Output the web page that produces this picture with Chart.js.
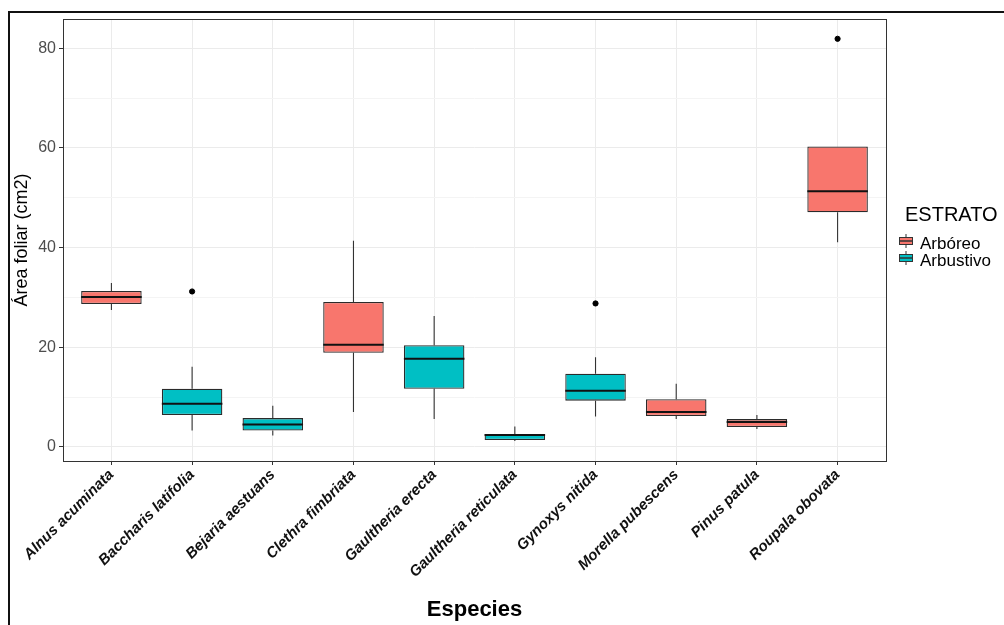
<!DOCTYPE html>
<html>
<head>
<meta charset="utf-8">
<script src="https://cdn.jsdelivr.net/npm/chart.js@4.4.0/dist/chart.umd.min.js"></script>
<style>
  html, body { margin: 0; padding: 0; background: #fff; }
  #wrap { width: 1004px; height: 625px; }
</style>
</head>
<body>
<div id="wrap"><canvas id="chart" width="1004" height="625"></canvas></div>
<script>
// datos
const especies = ['Alnus acuminata', 'Baccharis latifolia', 'Bejaria aestuans', 'Clethra fimbriata',
  'Gaultheria erecta', 'Gaultheria reticulata', 'Gynoxys nitida', 'Morella pubescens', 'Pinus patula', 'Roupala obovata'];
const estrato = ['Arbóreo', 'Arbustivo', 'Arbustivo', 'Arbóreo', 'Arbustivo', 'Arbustivo', 'Arbustivo', 'Arbóreo', 'Arbóreo', 'Arbóreo'];
const bigoteInf = [27.5, 3.3, 2.3, 7.0, 5.6, 1.2, 6.1, 5.6, 3.6, 41.1];
const q1 = [28.7, 6.4, 3.3, 18.9, 11.7, 1.4, 9.3, 6.2, 4.0, 47.1];
const mediana = [30.1, 8.7, 4.5, 20.5, 17.7, 2.4, 11.3, 7.0, 5.0, 51.3];
const q3 = [31.3, 11.7, 5.8, 29.1, 20.4, 2.6, 14.7, 9.6, 5.6, 60.3];
const bigoteSup = [32.9, 16.1, 8.3, 41.4, 26.3, 4.1, 18.0, 12.7, 6.4, 60.3];
const atipicos = [[], [31.2], [], [], [], [], [28.8], [], [], [81.9]];
const yTicks = [0, 10, 20, 30, 40, 50, 60, 70, 80];
const grupos = ['Arbóreo', 'Arbustivo'];
const colores = ['#F8766D', '#00BFC4'];

const datasets = grupos.map((g, k) => ({
    label: g,
    data: especies.map((e, i) => ({ x: i + 1, y: [q1[i], q3[i]], i: i })).filter(d => estrato[d.i] === g),
    backgroundColor: colores[k],
    borderColor: '#2b2b2b',
    borderWidth: 1.3,
    borderSkipped: false,
    grouped: false,
    categoryPercentage: 1,
    barPercentage: 0.75,
}));

const puntos = [];
atipicos.forEach((lista, i) => lista.forEach(v => puntos.push({ x: i + 1, y: v })));
datasets.push({
    type: 'scatter',
    label: 'atipicos',
    data: puntos,
    backgroundColor: '#000',
    borderColor: '#000',
    pointRadius: 2.6,
    showLine: false,
});

const marco = {
    id: 'marco',
    beforeDraw(chart) {
        const ctx = chart.ctx;
        ctx.save();
        ctx.fillStyle = '#111';
        ctx.fillRect(8, 11, 996, 2);
        ctx.fillRect(8, 11, 2, 614);
        ctx.restore();
    }
};

const cajas = {
    id: 'cajas',
    beforeDatasetsDraw(chart) {
        const ctx = chart.ctx;
        const y = chart.scales.y;
        ctx.save();
        ctx.strokeStyle = '#333333';
        ctx.lineWidth = 1.1;
        chart.data.datasets.forEach((ds, di) => {
            if (ds.type === 'scatter') return;
            chart.getDatasetMeta(di).data.forEach((bar, j) => {
                const i = ds.data[j].i;
                ctx.beginPath();
                ctx.moveTo(bar.x, y.getPixelForValue(q3[i]));
                ctx.lineTo(bar.x, y.getPixelForValue(bigoteSup[i]));
                ctx.moveTo(bar.x, y.getPixelForValue(q1[i]));
                ctx.lineTo(bar.x, y.getPixelForValue(bigoteInf[i]));
                ctx.stroke();
            });
        });
        ctx.restore();
    },
    afterDatasetsDraw(chart) {
        const ctx = chart.ctx;
        const y = chart.scales.y;
        ctx.save();
        ctx.strokeStyle = '#111';
        ctx.lineWidth = 2;
        chart.data.datasets.forEach((ds, di) => {
            if (ds.type === 'scatter') return;
            chart.getDatasetMeta(di).data.forEach((bar, j) => {
                const i = ds.data[j].i;
                const py = y.getPixelForValue(mediana[i]);
                ctx.beginPath();
                ctx.moveTo(bar.x - bar.width / 2, py);
                ctx.lineTo(bar.x + bar.width / 2, py);
                ctx.stroke();
            });
        });
        // borde del panel
        const a = chart.chartArea;
        ctx.strokeStyle = '#333333';
        ctx.lineWidth = 1;
        ctx.strokeRect(Math.round(a.left) + 0.5, Math.round(a.top) + 0.5, Math.round(a.right - a.left), Math.round(a.bottom - a.top));
        ctx.restore();
    },
    afterDraw(chart) {
        // leyenda estilo ggplot
        const ctx = chart.ctx;
        const a = chart.chartArea;
        const x0 = a.right + 12;
        ctx.save();
        ctx.fillStyle = '#000';
        ctx.font = '20px "Liberation Sans", Arial, sans-serif';
        ctx.textBaseline = 'middle';
        ctx.fillText('ESTRATO', x0 + 7, 215);
        grupos.forEach((g, k) => {
            const cy = 241 + k * 17;
            const cx = x0 + 8;
            ctx.strokeStyle = '#333333';
            ctx.lineWidth = 1;
            ctx.beginPath();
            ctx.moveTo(cx, cy - 7);
            ctx.lineTo(cx, cy + 7);
            ctx.stroke();
            ctx.fillStyle = colores[k];
            ctx.fillRect(cx - 7, cy - 4, 14, 8);
            ctx.strokeRect(cx - 7 + 0.5, cy - 4 + 0.5, 13, 7);
            ctx.lineWidth = 1.5;
            ctx.beginPath();
            ctx.moveTo(cx - 7, cy);
            ctx.lineTo(cx + 7, cy);
            ctx.stroke();
            ctx.fillStyle = '#000';
            ctx.font = '17px "Liberation Sans", Arial, sans-serif';
            ctx.fillText(g, x0 + 22, cy + 3);
        });
        ctx.restore();
    }
};

new Chart(document.getElementById('chart'), {
    type: 'bar',
    data: { datasets: datasets },
    options: {
        responsive: false,
        animation: false,
        layout: { padding: { left: 11, top: 19, right: 118, bottom: 0 } },
        plugins: {
            legend: { display: false },
            tooltip: { enabled: false },
        },
        scales: {
            x: {
                type: 'linear',
                min: 0.4,
                max: 10.6,
                offset: false,
                afterBuildTicks: (s) => { s.ticks = especies.map((e, i) => ({ value: i + 1 })); },
                afterFit: (s) => { s.height = 164; },
                grid: { color: '#EBEBEB', tickColor: '#333333', tickLength: 4, offset: false },
                border: { display: false },
                ticks: {
                    autoSkip: false,
                    minRotation: 45,
                    maxRotation: 45,
                    padding: 1,
                    color: '#111',
                    font: { family: '"Liberation Sans", Arial, sans-serif', size: 15, style: 'italic', weight: 'bold' },
                    callback: (v) => especies[Math.round(v) - 1],
                },
                title: {
                    display: true,
                    text: 'Especies',
                    color: '#000',
                    padding: { top: 0, bottom: 2 },
                    font: { family: '"Liberation Sans", Arial, sans-serif', size: 22, weight: 'bold' },
                },
            },
            y: {
                min: -2.81,
                max: 85.87,
                afterBuildTicks: (s) => { s.ticks = yTicks.map(v => ({ value: v })); },
                afterFit: (s) => { s.width = 52; },
                grid: {
                    color: (c) => (c.tick && c.tick.value % 20 === 0) ? '#EBEBEB' : '#F4F4F4',
                    tickColor: (c) => (c.tick && c.tick.value % 20 === 0) ? '#333333' : 'rgba(0,0,0,0)',
                    tickLength: 4,
                },
                border: { display: false },
                ticks: {
                    autoSkip: false,
                    padding: 3,
                    color: '#4D4D4D',
                    font: { family: '"Liberation Sans", Arial, sans-serif', size: 16 },
                    callback: (v) => (v % 20 === 0 ? String(v) : ''),
                },
                title: {
                    display: true,
                    text: 'Área foliar (cm2)',
                    color: '#000',
                    padding: { top: 0, bottom: 0 },
                    font: { family: '"Liberation Sans", Arial, sans-serif', size: 18 },
                },
            },
        },
    },
    plugins: [marco, cajas],
});
</script>
</body>
</html>
